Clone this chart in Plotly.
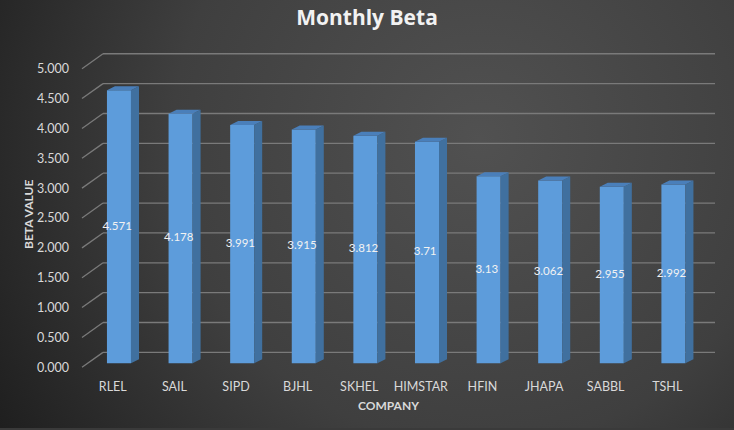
import base64
import plotly.graph_objects as go

# Data
companies = ['RLEL', 'SAIL', 'SIPD', 'BJHL', 'SKHEL', 'HIMSTAR', 'HFIN', 'JHAPA', 'SABBL', 'TSHL']
beta = [4.571, 4.178, 3.991, 3.915, 3.812, 3.71, 3.13, 3.062, 2.955, 2.992]
beta_labels = ['4.571', '4.178', '3.991', '3.915', '3.812', '3.71', '3.13', '3.062', '2.955', '2.992']
y_ticks = [0, 0.5, 1, 1.5, 2, 2.5, 3, 3.5, 4, 4.5, 5]
y_tick_text = ['0.000', '0.500', '1.000', '1.500', '2.000', '2.500', '3.000', '3.500', '4.000', '4.500', '5.000']

W, H = 734, 430
FONT = 'Lato'
xs = list(range(len(companies)))

# fake 3D depth (in axis units)
half = 0.195
dx, dy = 0.13, 0.067

# dark radial gradient background
svg = f'''<svg xmlns="http://www.w3.org/2000/svg" width="{W}" height="{H}">
<defs><radialGradient id="g" cx="480" cy="140" r="560" gradientUnits="userSpaceOnUse">
<stop offset="0" stop-color="#515151"/><stop offset="0.55" stop-color="#3f3f3f"/><stop offset="1" stop-color="#1f1f1f"/>
</radialGradient></defs><rect width="{W}" height="{H}" fill="url(#g)"/></svg>'''
bg = 'data:image/svg+xml;base64,' + base64.b64encode(svg.encode()).decode()

fig = go.Figure()

# side faces
sx, sy = [], []
for x, v in zip(xs, beta):
    sx += [x + half, x + half, x + half + dx, x + half + dx, x + half, None]
    sy += [0, v, v + dy, dy, 0, None]
fig.add_trace(go.Scatter(x=sx, y=sy, fill='toself', fillcolor='#40709f', mode='lines',
                         line=dict(width=0), hoverinfo='skip', showlegend=False))

# top faces
tx, ty = [], []
for x, v in zip(xs, beta):
    tx += [x - half, x + half, x + half + dx, x - half + dx, x - half, None]
    ty += [v, v, v + dy, v + dy, v, None]
fig.add_trace(go.Scatter(x=tx, y=ty, fill='toself', fillcolor='#4a7fba', mode='lines',
                         line=dict(width=0), hoverinfo='skip', showlegend=False))

# front faces
fig.add_trace(go.Bar(x=xs, y=beta, width=2 * half, marker=dict(color='#5d9cdb', line=dict(width=0)),
                     showlegend=False, hoverinfo='x+y'))

# value labels
fig.add_trace(go.Scatter(x=[x - 0.03 for x in xs], y=[v / 2 for v in beta], text=beta_labels,
                         mode='text', textfont=dict(family=FONT, size=11.5, color='#f2f2f2'),
                         hoverinfo='skip', showlegend=False, cliponaxis=False))

# back-wall gridlines with diagonal lead-in
shapes = []
for t in y_ticks:
    shapes.append(dict(type='line', xref='paper', yref='y', x0=82 / W, x1=103 / W,
                       y0=t - dy, y1=t + 0.183, line=dict(color='#7a7a7a', width=1.3), layer='below'))
    shapes.append(dict(type='line', xref='paper', yref='y', x0=103 / W, x1=715 / W,
                       y0=t + 0.183, y1=t + 0.183, line=dict(color='#7a7a7a', width=1.3), layer='below'))

fig.update_layout(
    width=W, height=H,
    margin=dict(l=0, r=0, t=0, b=0),
    paper_bgcolor='#3a3a3a', plot_bgcolor='rgba(0,0,0,0)',
    images=[dict(source=bg, xref='paper', yref='paper', x=0, y=1, sizex=1, sizey=1,
                 sizing='stretch', layer='below', xanchor='left', yanchor='top')],
    shapes=shapes,
    title=dict(text='<b>Monthly Beta</b>', x=0.5, xanchor='center', y=1 - 18 / H, yanchor='middle',
               font=dict(family='Open Sans', size=21, color='#f2f2f2')),
    font=dict(family=FONT, color='#d9d9d9'),
    xaxis=dict(domain=[82 / W, 715 / W], range=[-0.6, 9.675], showgrid=False, zeroline=False,
               tickmode='array', tickvals=[x - 0.1 for x in xs], ticktext=companies,
               tickfont=dict(family=FONT, size=12.5, color='#d9d9d9'), ticks='', ticklabelstandoff=5),
    yaxis=dict(domain=[56 / H, 383 / H], range=[-0.15, 5.3], showgrid=False, zeroline=False,
               tickmode='array', tickvals=[t - dy for t in y_ticks], ticktext=y_tick_text,
               tickfont=dict(family=FONT, size=12.5, color='#d9d9d9'), ticks='', ticklabelstandoff=12),
    annotations=[
        dict(text='<b>BETA VALUE</b>', xref='paper', yref='paper', x=29 / W, y=1 - 216 / H,
             xanchor='center', yanchor='middle', textangle=-90, showarrow=False,
             font=dict(family=FONT, size=12, color='#d9d9d9')),
        dict(text='<b>COMPANY</b>', xref='paper', yref='paper', x=388 / W, y=1 - 407 / H,
             xanchor='center', yanchor='middle', showarrow=False,
             font=dict(family=FONT, size=12, color='#d9d9d9')),
    ],
)

fig.write_html('out.html', config={'displayModeBar': False},
               post_script="document.body.style.margin='0';document.body.style.overflow='hidden';")
